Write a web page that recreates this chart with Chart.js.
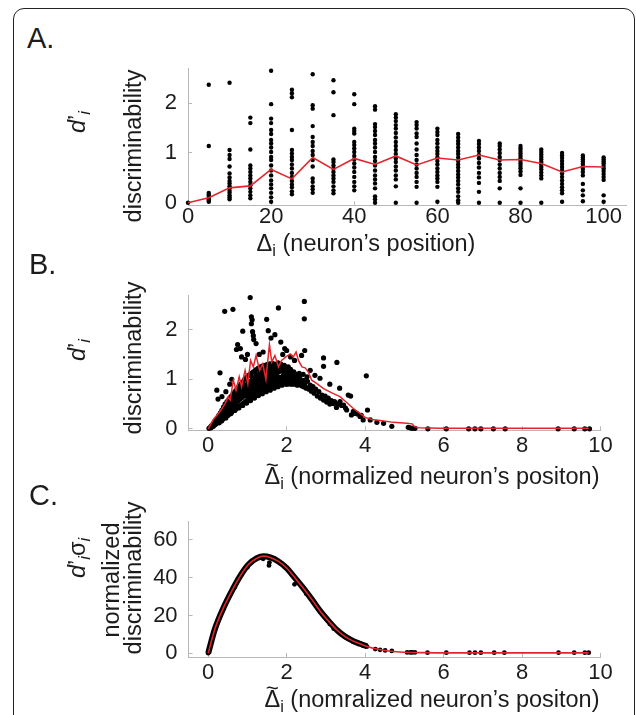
<!DOCTYPE html>
<html><head><meta charset="utf-8">
<script src="https://cdn.jsdelivr.net/npm/chart.js@4/dist/chart.umd.min.js"></script>
<style>
body{margin:0;width:636px;height:715px;overflow:hidden;background:#fff;position:relative;font-family:"Liberation Sans",Arial,sans-serif;color:#1c1c1c}
.frame{position:absolute;left:13px;top:8px;width:622px;height:800px;border:1.5px solid #222;border-radius:11px;box-sizing:border-box}
canvas{position:absolute;left:0}
.pl{position:absolute;font-size:29px;line-height:29px;white-space:nowrap}
.xt{position:absolute;font-size:23.5px;line-height:23.5px;white-space:nowrap;transform:translateX(-50%)}
.r{position:absolute;white-space:nowrap;font-size:23.5px;line-height:23.5px;transform:translate(-50%,-50%) rotate(-90deg)}
sub{font-size:70%;vertical-align:-0.28em;line-height:0}
.tl{position:relative;display:inline-block}
.tilde{position:absolute;left:0;right:0;top:-0.52em;text-align:center;font-size:0.95em}
</style></head>
<body>
<div class="frame"></div>
<canvas id="ca" width="636" height="180" style="top:60px"></canvas>
<canvas id="cb" width="636" height="190" style="top:285px"></canvas>
<canvas id="cc" width="636" height="185" style="top:511px"></canvas>

<div class="pl" style="left:27px;top:23.5px">A.</div>
<div class="pl" style="left:29px;top:249.5px">B.</div>
<div class="pl" style="left:29px;top:480.5px">C.</div>

<div class="r" style="left:134px;top:146px">discriminability</div>
<div class="r" style="left:78px;top:122px"><i>d</i>’<sub><i>i</i></sub></div>
<div class="xt" style="left:366px;top:232px">&Delta;<sub>i</sub> (neuron’s position)</div>

<div class="r" style="left:134px;top:358px">discriminability</div>
<div class="r" style="left:78px;top:350px"><i>d</i>’<sub><i>i</i></sub></div>
<div class="xt" style="left:432px;top:465px"><span class="tl">&Delta;<span class="tilde">~</span></span><sub>i</sub> (normalized neuron’s positon)</div>

<div class="r" style="left:112px;top:580px">normalized</div>
<div class="r" style="left:134px;top:578px">discriminability</div>
<div class="r" style="left:78px;top:558px"><i>d</i>’<sub><i>i</i></sub>σ<sub><i>i</i></sub></div>
<div class="xt" style="left:432px;top:688px"><span class="tl">&Delta;<span class="tilde">~</span></span><sub>i</sub> (nomralized neuron’s positon)</div>

<script>
// ---------- Panel A ----------
const aPositions = [0,5,10,15,20,25,30,35,40,45,50,55,60,65,70,75,80,85,90,95,100];
const aMean = [0,0.1,0.3,0.34,0.67,0.48,0.91,0.67,0.89,0.77,0.94,0.76,0.9,0.86,0.96,0.86,0.87,0.79,0.62,0.73,0.72];
const aDots = [
  [0],
  [2.37,1.14,0.2,0.17,0.14,0.1,0.07,0.04,0.02],
  [2.41,1.06,0.96,0.88,0.73,0.59,0.51,0.44,0.39,0.33,0.29,0.24,0.2,0.15,0.11,0.07],
  [1.71,1.6,1.07,0.75,0.69,0.62,0.55,0.49,0.42,0.35,0.29,0.22,0.15,0.09],
  [2.65,1.98,1.69,1.6,1.46,1.38,1.26,1.19,1.11,1.02,0.92,0.86,0.75,0.65,0.55,0.45,0.37,0.29,0.2,0.11,0.02],
  [2.27,2.2,2.12,1.46,1.06,0.99,0.92,0.86,0.77,0.69,0.6,0.52,0.44,0.37,0.31,0.23,0.17],
  [2.58,1.96,1.89,1.54,1.32,1.22,1.14,1.04,0.96,0.86,0.73,0.49,0.42,0.33,0.27,0.2],
  [2.46,2.22,1.76,0.87,0.82,0.75,0.69,0.62,0.55,0.49,0.42,0.33,0.25,0.19],
  [2.18,1.98,1.49,1.44,1.39,1.22,1.16,1.09,1.02,0.94,0.87,0.79,0.71,0.62,0.52,0.42,0.33,0.25],
  [1.94,1.87,1.58,1.52,1.44,1.36,1.26,1.19,1.11,1.02,0.92,0.84,0.75,0.65,0.55,0.47,0.39,0.29,0.13,0.07,0],
  [1.78,1.71,1.64,1.56,1.49,1.4,1.31,1.22,1.14,1.06,0.98,0.89,0.82,0.73,0.65,0.55,0.47,0.33,0],
  [1.62,1.56,1.49,1.39,1.32,1.19,1.07,0.96,0.86,0.77,0.69,0.6,0.52,0.42,0.32,0],
  [1.49,1.42,1.36,1.26,1.19,1.11,1.04,0.98,0.91,0.84,0.77,0.69,0.62,0.55,0.49,0.42,0.32,0.02],
  [1.38,1.31,1.24,1.18,1.11,1.04,0.98,0.91,0.84,0.77,0.71,0.64,0.57,0.51,0.44,0.37,0.29,0.22,0.13,0.05,0],
  [1.24,1.18,1.11,1.04,0.96,0.89,0.8,0.71,0.6,0.51,0.4,0.22,0],
  [1.19,1.14,1.07,1.0,0.92,0.86,0.77,0.69,0.6,0.52,0.44,0.29,0],
  [1.14,1.09,1.04,0.99,0.94,0.89,0.84,0.79,0.74,0.69,0.63,0.56,0.29,0],
  [1.07,1.02,0.97,0.92,0.87,0.82,0.77,0.72,0.67,0.61,0.55,0.49,0],
  [1.0,0.95,0.9,0.84,0.78,0.72,0.66,0.59,0.52,0.45,0.38,0.31,0.25,0.19,0.02],
  [0.95,0.91,0.87,0.83,0.78,0.73,0.68,0.62,0.55,0.38,0.25,0.15,0.03],
  [0.91,0.87,0.83,0.79,0.74,0.69,0.64,0.58,0.52,0.46,0.15,0.02]
];
const aTicksX = [0,20,40,60,80,100];
const aTicksY = [0,1,2];

// ---------- Panel B ----------
const bMeanX = [0,0.13,0.3,0.43,0.51,0.56,0.64,0.71,0.79,0.85,0.94,1.01,1.08,1.15,1.22,1.31,1.39,1.47,1.56,1.62,1.7,1.79,1.87,1.98,2.09,2.17,2.24,2.3,2.39,2.47,2.55,2.64,2.77,2.94,3.19,3.36,3.53,3.7,3.87,4.0,4.17,4.38,4.72,5.06,5.2,5.25,5.36,5.9,9.7];
const bMeanY = [0,0.19,0.35,0.51,0.65,0.58,0.98,0.78,1.05,0.85,1.18,0.91,1.38,1.25,1.48,1.18,1.31,1.0,1.7,1.35,1.48,1.25,1.38,1.45,1.51,1.45,1.55,1.38,1.25,1.23,1.15,0.98,0.91,0.81,0.71,0.65,0.53,0.41,0.31,0.23,0.19,0.17,0.13,0.11,0.1,0.05,0.02,0.01,0.01];
const bCloud = [
 [0.02,0.01],[0.05,0.03],[0.07,0.02],[0.08,0.06],[0.1,0.04],[0.12,0.09],[0.13,0.05],[0.15,0.12],[0.17,0.08],[0.18,0.15],[0.2,0.1],[0.21,0.18],[0.23,0.13],[0.24,0.22],[0.26,0.16],[0.27,0.27],[0.28,0.12],[0.3,0.2],[0.31,0.32],[0.32,0.24],[0.34,0.16],[0.35,0.38],[0.36,0.28],[0.38,0.2],[0.39,0.44],[0.4,0.33],[0.41,0.25],[0.43,0.5],[0.44,0.38],[0.45,0.22],[0.46,0.3],[0.48,0.55],[0.49,0.42],[0.5,0.27],[0.51,0.35],[0.53,0.6],[0.54,0.47],[0.55,0.3],[0.56,0.4],[0.58,0.65],[0.59,0.52],[0.6,0.34],[0.61,0.44],[0.63,0.7],[0.64,0.57],[0.65,0.37],[0.66,0.48],[0.68,0.75],[0.69,0.6],[0.7,0.4],[0.71,0.52],[0.73,0.8],[0.74,0.66],[0.75,0.43],[0.76,0.56],[0.78,0.85],[0.79,0.7],[0.8,0.46],[0.81,0.6],[0.83,0.9],[0.84,0.74],[0.85,0.49],[0.86,0.63],[0.88,0.95],[0.89,0.78],[0.9,0.52],[0.91,0.66],[0.93,1.0],[0.94,0.82],[0.95,0.55],[0.96,0.7],[0.98,1.04],[0.99,0.86],[1.0,0.58],
 [1.01,0.73],[1.03,1.08],[1.04,0.9],[1.05,0.6],[1.07,0.77],[1.09,1.12],[1.1,0.94],[1.11,0.63],[1.13,0.8],[1.15,1.15],[1.16,0.98],[1.17,0.66],[1.19,0.84],[1.21,1.19],[1.22,1.02],[1.23,0.69],[1.25,0.87],[1.27,1.22],[1.28,1.05],[1.29,0.72],[1.31,0.9],[1.33,1.25],[1.34,1.08],[1.35,0.74],[1.37,0.93],[1.39,1.27],[1.4,1.1],[1.41,0.77],[1.43,0.96],[1.45,1.28],[1.46,1.13],[1.47,0.79],[1.49,0.99],[1.51,1.3],[1.52,1.15],[1.53,0.82],[1.55,1.01],[1.57,1.31],[1.58,1.17],[1.6,0.84],[1.62,1.03],[1.64,1.32],[1.65,1.18],[1.67,0.86],[1.69,1.05],[1.71,1.3],[1.72,1.2],[1.74,0.88],[1.76,1.06],[1.78,1.33],[1.8,1.15],[1.82,0.9],[1.84,1.04],[1.86,1.3],[1.88,1.2],[1.9,0.92],[1.92,1.08],[1.94,1.28],[1.96,0.94],[1.98,1.15],[2.0,1.02],[2.02,0.9],[2.04,1.25],[2.06,1.1],[2.08,0.95],[2.1,1.2],[2.12,0.9],[2.15,1.05],[2.18,1.15],[2.2,0.92],[2.22,1.0],[2.25,1.1],[2.27,0.88],[2.3,0.97],
 [2.33,1.05],[2.36,0.9],[2.4,0.98],[2.43,0.85],[2.47,0.93],[2.5,0.82],[2.53,0.96],[2.57,0.8],[2.6,0.88],[2.63,0.76],[2.67,0.85],[2.7,0.72],[2.74,0.8],[2.78,0.66],[2.82,0.75],[2.86,0.62],[2.9,0.68],[2.94,0.58],[2.98,0.66],[3.02,0.54],[3.06,0.62],[3.1,0.5],[3.14,0.57],[3.19,0.51],[3.22,0.55],[3.27,0.43],[3.3,0.5],[3.36,0.55],[3.4,0.47],[3.45,0.48],[3.5,0.42],[3.53,0.38],[3.57,0.68],[3.63,0.66],[3.65,0.28],[3.7,0.35],[3.74,0.31],[3.8,0.3],[3.87,0.25],[3.9,0.27],[3.95,0.18],[4.06,0.38],[4.13,0.18],[4.3,0.13],[4.47,0.11],[4.68,0.05],[5.1,0.03],[5.15,0.02],[5.2,0.01],[5.27,0.01],
 [5.6,0],[6.07,0],[6.64,0],[6.8,0],[6.95,0],[7.27,0],[7.57,0],[8.92,0],[9.33,0],[9.6,0],[9.72,0]
];
const bCloudFill = [
 [0.33,0.28],[0.37,0.34],[0.42,0.3],[0.47,0.45],[0.52,0.42],[0.57,0.5],[0.62,0.5],[0.67,0.55],[0.72,0.6],[0.77,0.63],[0.82,0.68],[0.87,0.7],[0.92,0.74],[0.97,0.78],[1.02,0.82],[1.06,0.86],[1.12,0.88],[1.18,0.92],[1.24,0.95],[1.3,0.98],[1.36,1.0],[1.42,1.04],[1.48,1.06],[1.54,1.08],[1.6,1.1],[1.66,1.1],[1.73,1.12],[1.79,1.0],[1.85,0.97],[1.91,1.0],[1.97,1.05],[2.03,1.08],[2.09,1.02],[2.14,0.98],[2.19,1.05],[2.24,0.95],[2.28,1.02],
 [0.58,0.31],[0.68,0.37],[0.78,0.42],[0.88,0.47],[0.98,0.52],[1.08,0.57],[1.18,0.62],[1.28,0.67],[1.38,0.71],[1.48,0.75],[1.58,0.78],[1.68,0.82],[1.78,0.85],[1.88,0.88],[1.98,0.9],[2.08,0.91],[2.18,0.9],[2.28,0.9],[2.38,0.87],[2.48,0.84],
 [0.62,0.62],[0.72,0.7],[0.82,0.8],[0.92,0.88],[1.02,0.96],[1.12,1.04],[1.22,1.1],[1.32,1.15],[1.42,1.18],[1.52,1.22],[1.62,1.24],[1.72,1.25],[1.82,1.25],[1.92,1.22],[2.02,1.18],[2.12,1.12],[2.22,1.08],[2.32,1.12],[2.42,1.1],[2.52,1.05],
 [1.0,0.66],[1.05,0.7],[1.1,0.72],[1.15,0.75],[1.2,0.76],[1.25,0.79],[1.3,0.8],[1.35,0.84],[1.4,0.86],[1.45,0.88],[1.5,0.9],[1.55,0.92],[1.6,0.94],[1.65,0.95],[1.7,0.97],[1.75,0.98],[1.8,1.0],[1.85,1.02],[1.9,1.05],[1.95,1.08],[2.0,1.1],[2.05,1.0],[2.1,1.04],[2.15,0.95],[2.2,1.1],[2.25,1.02],[2.3,1.08],[2.35,0.98],[2.4,0.92],[2.45,0.98],
 [0.5,0.48],[0.55,0.55],[0.6,0.58],[0.65,0.62],[0.7,0.66],[0.75,0.72],[0.8,0.75],[0.85,0.8],[0.9,0.84],[0.95,0.88],
 [1.12,0.97],[1.22,1.0],[1.32,1.03],[1.42,1.1],[1.52,1.12],[1.62,1.14],[1.72,1.16],[1.82,1.18],[1.92,1.15],[2.02,1.14],
 [1.04,0.62],[1.14,0.68],[1.24,0.73],[1.34,0.77],[1.44,0.8],[1.54,0.84],[1.64,0.87],[1.74,0.9],[1.84,0.93],[1.94,0.96],[2.04,0.96],[2.14,0.94],[2.24,0.92],[2.34,0.94]
];
const bOutliers = [
 [0.42,2.37],[0.63,2.41],[1.07,2.65],[1.1,2.26],[1.12,2.2],[1.1,2.12],[0.88,1.97],[1.13,1.96],[1.15,1.88],[1.16,1.8],[1.22,1.72],[1.49,2.21],[1.79,2.44],[1.53,1.98],[1.7,1.9],[1.6,1.83],[1.85,1.75],[1.95,1.62],[2.0,1.58],[2.45,2.57],[2.45,2.22],[2.46,1.58],[2.38,1.48],[0.3,1.13],[0.22,0.78],[0.25,0.6],[0.72,1.6],[0.75,1.7],[0.82,1.62],[0.85,1.45],[0.95,1.4],[1.0,1.5],[1.3,1.5],[1.4,1.55],[1.9,1.5],[2.1,1.45],[2.2,1.38],[2.94,1.43],[2.94,1.26],[3.28,1.34],[4.03,1.07],[2.6,1.18],[2.72,1.08],[2.85,1.02],[3.1,0.9],[3.35,0.82],[0.55,0.9],[0.6,1.0],[0.45,0.75],[0.35,0.65]
];
const bTicksX = [0,2,4,6,8,10];
const bTicksY = [0,1,2];

// ---------- Panel C ----------
const cFitX = [0,0.17,0.39,0.6,0.81,1.02,1.24,1.41,1.58,1.79,2.0,2.21,2.43,2.64,2.85,3.06,3.28,3.49,3.7,3.87,4.05,4.3,4.6,5.0,5.5,6.0,7.0,8.0,9.7];
const cFitY = [0,12.8,24.1,32.9,40.7,46.8,50.3,51.4,50.7,48.6,45.1,39.9,34.3,28.5,22.4,17.2,12.3,8.8,6.4,5.0,3.6,2.2,1.2,0.5,0.3,0.2,0.2,0.2,0.2];
const cDots = [
 [0,0],[0.02,2],[0.68,35],[1.0,45.5],[1.3,50.5],[1.4,50],[1.55,46.5],[1.56,48],[2.2,36.5],[2.5,31.5],[3.1,15.5],[3.2,13],[3.5,8.5],[3.7,6],[3.95,4],[4.05,3.5],
 [4.26,2.2],[4.38,1.8],[4.51,1.5],[4.68,1.2],[5.07,0.4],[5.15,0.4],[5.2,0.4],[5.27,0.4],[5.59,0.3],[6.07,0.3],[6.66,0.3],[6.8,0.3],[6.95,0.3],[7.29,0.3],[7.55,0.3],[8.93,0.3],[9.33,0.3],[9.6,0.3],[9.7,0.3]
];
const cTicksX = [0,2,4,6,8,10];
const cTicksY = [0,20,40,60];

// ---------- build ----------
const FONT = '"Liberation Sans", Arial, sans-serif';
const AXIS = '#b8b8b8';
const RED = '#e3262c';
function axis(min, max, ticks, pos, size, pad) {
  return {
    type: 'linear', position: pos, min: min, max: max,
    border: {display: true, color: AXIS, width: 1},
    grid: {display: true, drawOnChartArea: false, drawTicks: true, tickLength: -4, color: AXIS, lineWidth: 1},
    ticks: {autoSkip: false, maxRotation: 0, minRotation: 0, padding: pad, color: '#1c1c1c',
            font: {family: FONT, size: 22}, callback: v => String(v)},
    afterBuildTicks: s => { s.ticks = ticks.map(v => ({value: v})); },
    afterFit: s => {
      if (pos === 'bottom') s.height = size; else s.width = size;
      s.paddingTop = 0; s.paddingBottom = 0; s.paddingLeft = 0; s.paddingRight = 0;
    }
  };
}
function make(id, datasets, xs, ys, padding) {
  new Chart(document.getElementById(id), {
    type: 'scatter',
    data: {datasets: datasets},
    options: {
      responsive: false, animation: false, events: [],
      layout: {padding: padding},
      plugins: {legend: {display: false}, tooltip: {enabled: false}},
      scales: {x: xs, y: ys}
    }
  });
}
function dots(pts, r) {
  return {type: 'scatter', data: pts.map(p => ({x: p[0], y: p[1]})), pointRadius: r, pointBorderWidth: 0,
          pointBackgroundColor: '#000', backgroundColor: '#000', showLine: false, clip: false};
}
function line(xs, ys, color, w, smooth) {
  return {type: 'line', data: xs.map((x, i) => ({x: x, y: ys[i]})), borderColor: color, borderWidth: w,
          pointRadius: 0, fill: false, showLine: true, clip: false,
          tension: smooth ? 0.4 : 0, cubicInterpolationMode: smooth ? 'monotone' : 'default'};
}

// Panel A
const aPts = [];
aDots.forEach((col, i) => col.forEach(v => aPts.push([aPositions[i], v])));
make('ca', [
  line(aPositions, aMean, RED, 1.6, false),
  dots(aPts, 2.2)
], axis(0, 105.5, aTicksX, 'bottom', 34.7, 2), axis(-0.05, 2.7, aTicksY, 'left', 188, 15),
{left: 0, right: 9.5, top: 8.3, bottom: 0});

// Panel B
make('cb', [
  line(bMeanX, bMeanY, RED, 1.5, false),
  dots(bCloud.concat(bCloudFill, bOutliers), 2.6)
], axis(-0.5, 10, bTicksX, 'bottom', 44.7, 6.5), axis(-0.03, 2.7, bTicksY, 'left', 188.6, 15),
{left: 0, right: 35.5, top: 10, bottom: 0});

// Panel C (dense band of points drawn as a thick black trace under the red fit)
const bandN = cFitX.filter(x => x <= 4.05).length;
make('cc', [
  line(cFitX, cFitY, RED, 1.6, true),
  line(cFitX.slice(0, bandN), cFitY.slice(0, bandN), '#000', 6, true),
  dots(cDots, 2.4)
], axis(-0.5, 10, cTicksX, 'bottom', 39, 7), axis(-2, 70, cTicksY, 'left', 188.6, 15),
{left: 0, right: 35.5, top: 10, bottom: 0});
</script>
</body></html>
